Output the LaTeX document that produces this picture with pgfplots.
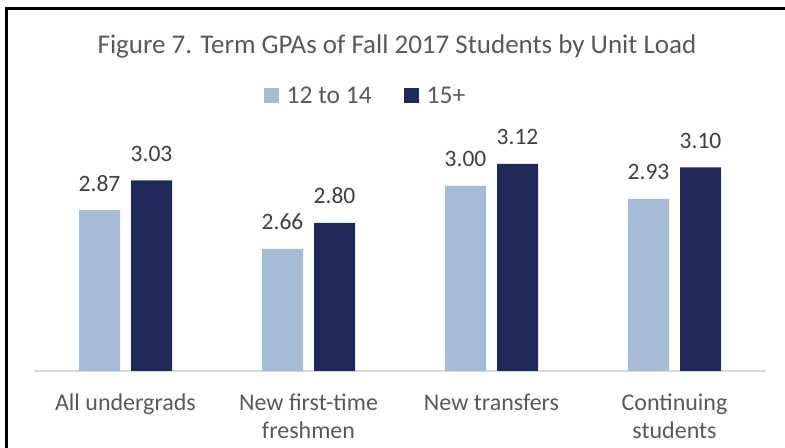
\documentclass[border=0pt]{standalone}
\usepackage{pgfplots}
\pgfplotsset{compat=1.18}
\usepackage{fontspec}
\setmainfont{Carlito}
\definecolor{lightb}{HTML}{A6BBD5}
\definecolor{darkb}{HTML}{1F2A5A}
\definecolor{txt}{HTML}{595959}
\definecolor{vtxt}{HTML}{404040}
\definecolor{axc}{HTML}{D9D9D9}
\begin{document}
\begin{tikzpicture}
\useasboundingbox (0,0) rectangle (785bp,448bp);
\fill[white] (0,0) rectangle (785bp,448bp);
\draw[line width=2.5bp] (6.5bp,0) -- (6.5bp,439.5bp) -- (785bp,439.5bp);
\node[anchor=base, text=txt, font=\fontsize{27bp}{32bp}\selectfont, inner sep=0pt] at (397bp,394bp) {Figure 7. Term GPAs of Fall 2017 Students by Unit Load};
\begin{axis}[
 at={(34bp,77bp)}, anchor=south west, scale only axis, width=732bp, height=259bp,
 ybar=11bp, bar width=41bp,
 xmin=-0.5, xmax=3.5, ymin=2, ymax=3.4,
 axis y line=none, axis x line*=bottom, x axis line style={draw=axc, line width=1.5bp, -},
 xtick={0,1,2,3}, xticklabels={All undergrads, {New first-time\\freshmen}, New transfers, {Continuing\\students}},
 major tick length=0pt,
 xticklabel style={align=center, anchor=north, inner sep=0pt, yshift=-23bp, text=txt, font=\fontsize{24bp}{28bp}\selectfont},
 nodes near coords={\pgfmathprintnumber[fixed,fixed zerofill,precision=2,assume math mode=true]{\pgfplotspointmeta}},
 every node near coord/.append style={anchor=base, yshift=19bp, inner sep=0pt, text=vtxt, font=\fontsize{23.5bp}{28bp}\selectfont},
 legend columns=2,
 legend style={at={(0.4515,1.0618)}, anchor=center, draw=none, fill=none, inner sep=0pt, font=\fontsize{25.5bp}{30bp}\selectfont, text=txt, nodes={inner sep=0pt}, /tikz/every odd column/.append style={column sep=8bp}, /tikz/every even column/.append style={column sep=32bp}},
 legend image code/.code={\fill[#1] (0bp,-7.5bp) rectangle (15bp,7.5bp);},
]
\addplot[fill=lightb, draw=none] coordinates {(0,2.87) (1,2.66) (2,3.00) (3,2.93)};
\addplot[fill=darkb, draw=none] coordinates {(0,3.03) (1,2.80) (2,3.12) (3,3.10)};
\legend{12 to 14, 15+}
\end{axis}
\end{tikzpicture}
\end{document}
